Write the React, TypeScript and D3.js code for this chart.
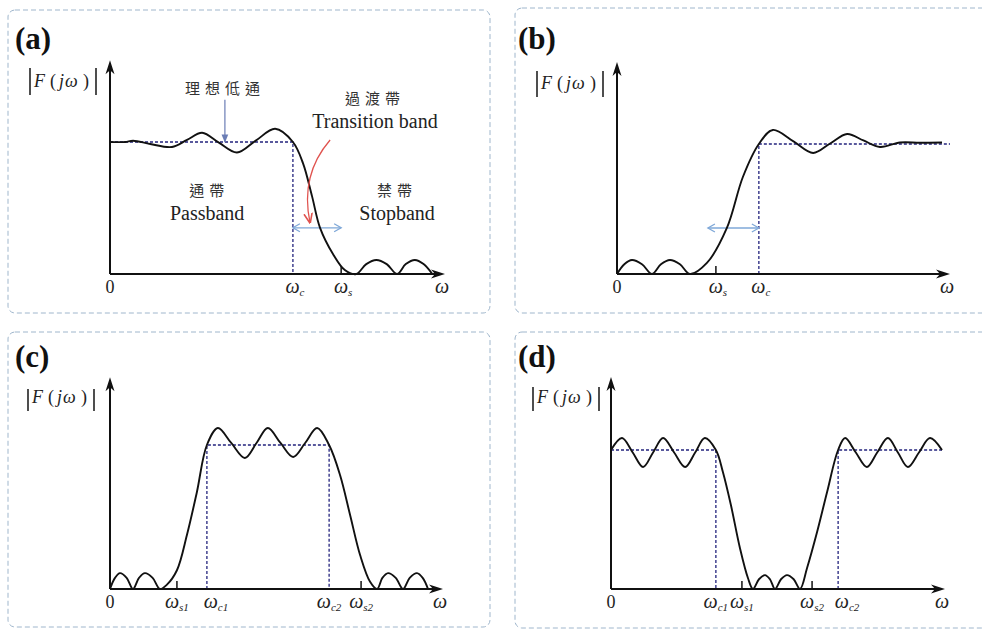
import React from "react";
import * as d3 from "d3";

type Pt = [number, number];

// ---------- data: x in ω units along the axis (0..10), y = |F(jω)| relative to the pass level (1) ----------
const responseA: Pt[] = [
  [0, 1.0], [0.45, 1.0], [0.69, 1.01], [1.2, 0.985], [1.85, 0.962], [2.3, 1.016], [2.75, 1.07],
  [3.25, 0.995], [3.79, 0.92], [4.35, 1.01], [4.93, 1.1], [5.46, 1.0], [5.76, 0.84], [6.03, 0.59],
  [6.27, 0.35], [6.66, 0.15], [7.01, 0.03], [7.35, 0], [7.65, 0.075], [7.95, 0.106], [8.26, 0.075],
  [8.57, 0], [8.83, 0.075], [9.1, 0.106], [9.36, 0.075], [9.62, 0],
];
const responseB: Pt[] = [
  [0, 0], [0.22, 0.075], [0.45, 0.108], [0.75, 0.075], [1.05, 0], [1.32, 0.075], [1.59, 0.108],
  [1.89, 0.075], [2.19, 0], [2.7, 0.085], [3.3, 0.354], [3.78, 0.746], [4.26, 1.0], [4.68, 1.108],
  [5.3, 1.02], [5.89, 0.931], [6.4, 1.004], [6.91, 1.077], [7.4, 1.027], [7.9, 0.977], [8.5, 1.012],
  [9.1, 1.01], [9.76, 1.012],
];
const responseC: Pt[] = [
  [0, 0], [0.15, 0.077], [0.3, 0.11], [0.5, 0.077], [0.69, 0], [0.87, 0.077], [1.05, 0.11],
  [1.28, 0.077], [1.5, 0], [1.71, 0.03], [2.01, 0.13], [2.31, 0.375], [2.61, 0.674], [2.91, 1.0],
  [3.24, 1.118], [3.64, 1.014], [4.05, 0.91], [4.4, 1.014], [4.74, 1.118], [5.12, 1.014], [5.5, 0.917],
  [5.86, 1.014], [6.22, 1.118], [6.58, 1.0], [6.91, 0.79], [7.21, 0.514], [7.51, 0.236], [7.81, 0.05],
  [8.02, 0], [8.18, 0.077], [8.35, 0.11], [8.58, 0.077], [8.8, 0], [9.0, 0.077], [9.22, 0.11],
  [9.39, 0.077], [9.55, 0],
];
const responseD: Pt[] = [
  [0, 1.0], [0.33, 1.086], [0.65, 0.982], [0.96, 0.878], [1.26, 0.982], [1.56, 1.086], [1.89, 0.982],
  [2.22, 0.878], [2.52, 0.982], [2.81, 1.086], [3.14, 1.0], [3.35, 0.842], [3.59, 0.604], [3.86, 0.295],
  [4.1, 0.079], [4.25, 0], [4.43, 0.07], [4.61, 0.1], [4.76, 0.07], [4.91, 0], [5.09, 0.07],
  [5.27, 0.1], [5.47, 0.07], [5.66, 0], [5.87, 0.151], [6.17, 0.41], [6.47, 0.698], [6.8, 1.0],
  [7.01, 1.086], [7.33, 0.982], [7.66, 0.878], [7.97, 0.982], [8.29, 1.086], [8.59, 0.982], [8.89, 0.878],
  [9.22, 0.982], [9.55, 1.086], [9.91, 1.0],
];

// ideal (brick-wall) responses, dashed
const idealA: Pt[][] = [[[0, 1], [5.46, 1], [5.46, 0]]];
const idealB: Pt[][] = [[[4.26, 0], [4.26, 1], [10, 1]]];
const idealC: Pt[][] = [[[2.91, 0], [2.91, 1], [6.58, 1], [6.58, 0]]];
const idealD: Pt[][] = [[[0, 1], [3.14, 1], [3.14, 0]], [[6.8, 0], [6.8, 1], [9.91, 1]]];

// axis frequency marks
type Tick = { sub: string; at: number; mark: boolean };
const ticksA: Tick[] = [{ sub: "c", at: 5.46, mark: false }, { sub: "s", at: 6.9, mark: true }];
const ticksB: Tick[] = [{ sub: "s", at: 2.97, mark: true }, { sub: "c", at: 4.26, mark: false }];
const ticksC: Tick[] = [
  { sub: "s1", at: 2.01, mark: true }, { sub: "c1", at: 2.91, mark: false },
  { sub: "c2", at: 6.58, mark: false }, { sub: "s2", at: 7.54, mark: true },
];
const ticksD: Tick[] = [
  { sub: "c1", at: 3.14, mark: false }, { sub: "s1", at: 3.92, mark: true },
  { sub: "s2", at: 6.02, mark: true }, { sub: "c2", at: 6.8, mark: false },
];

// transition-band double arrows [from, to, level]
const bandA: number[] = [5.46, 6.9, 0.35];
const bandB: number[] = [2.73, 4.26, 0.354];

const panelNames = ["(a)", "(b)", "(c)", "(d)"];

// ---------- layout ----------
const layouts = [
  { box: [8, 10, 482, 303], ox: 110, oy: 274, len: 335, lvl: 132, yTop: 1.62, label: [15, 49], fl: [30, 68, 95], shift: {} as Record<string, number> },
  { box: [515, 8, 480, 305], ox: 617, oy: 274, len: 333, lvl: 130, yTop: 1.63, label: [518, 49], fl: [537, 71, 97], shift: {} as Record<string, number> },
  { box: [8, 332, 482, 295], ox: 110, oy: 589, len: 333, lvl: 144, yTop: 1.47, label: [15, 367], fl: [28, 389, 411], shift: { c1: 9 } as Record<string, number> },
  { box: [515, 332, 480, 296], ox: 611, oy: 589, len: 334, lvl: 139, yTop: 1.525, label: [518, 367], fl: [533, 387, 411], shift: { c2: 9 } as Record<string, number> },
];

const responses = [responseA, responseB, responseC, responseD];
const ideals = [idealA, idealB, idealC, idealD];
const ticksAll = [ticksA, ticksB, ticksC, ticksD];
const bands: (number[] | null)[] = [bandA, bandB, null, null];

const SERIF = "Liberation Serif, Times New Roman, serif";
const CJK = "Noto Sans CJK TC, Noto Sans CJK SC, sans-serif";

function DoubleArrow({ x1, x2, y }: { x1: number; x2: number; y: number }) {
  const c = "#7fa8d8";
  return (
    <g stroke={c} strokeWidth={1.3} fill="none">
      <line x1={x1} y1={y} x2={x2} y2={y} />
      <path d={`M${x1 + 7},${y - 4} L${x1},${y} L${x1 + 7},${y + 4}`} />
      <path d={`M${x2 - 7},${y - 4} L${x2},${y} L${x2 - 7},${y + 4}`} />
    </g>
  );
}

function FLabel({ x, y0, y1 }: { x: number; y0: number; y1: number }) {
  const base = y1 - 8;
  return (
    <g>
      <line x1={x} y1={y0} x2={x} y2={y1} stroke="#222" strokeWidth={1.6} />
      <line x1={x + 66} y1={y0} x2={x + 66} y2={y1} stroke="#222" strokeWidth={1.6} />
      <text y={base} fontSize={18} fontFamily={SERIF} fill="#222">
        <tspan x={x + 4} fontStyle="italic">F</tspan>
        <tspan x={x + 20}>(</tspan>
        <tspan x={x + 29} fontStyle="italic">j</tspan>
        <tspan x={x + 35} fontStyle="italic">ω</tspan>
        <tspan x={x + 53}>)</tspan>
      </text>
    </g>
  );
}

function Panel({ i }: { i: number }) {
  const L = layouts[i];
  const x = d3.scaleLinear().domain([0, 10]).range([L.ox, L.ox + L.len]);
  const y = d3.scaleLinear().domain([0, 1]).range([L.oy, L.oy - L.lvl]);
  const smooth = d3.line<Pt>().x((d) => x(d[0])).y((d) => y(d[1])).curve(d3.curveCatmullRom.alpha(0.5));
  const straight = d3.line<Pt>().x((d) => x(d[0])).y((d) => y(d[1]));
  const x0 = x(0), y0 = y(0), xEnd = x(10), yEnd = y(L.yTop);
  const [bx, by, bw, bh] = L.box;
  const band = bands[i];
  return (
    <g>
      <rect x={bx} y={by} width={bw} height={bh} rx={7} fill="none" stroke="#9fb6cc" strokeWidth={1} strokeDasharray="5,3" />
      <text x={L.label[0]} y={L.label[1]} fontSize={31} fontWeight="bold" fontFamily={SERIF} fill="#111">{panelNames[i]}</text>
      <FLabel x={L.fl[0]} y0={L.fl[1]} y1={L.fl[2]} />
      {ideals[i].map((seg, k) => (
        <path key={k} d={straight(seg) || ""} fill="none" stroke="#23237e" strokeWidth={1.3} strokeDasharray="3,2" />
      ))}
      {band && <DoubleArrow x1={x(band[0])} x2={x(band[1])} y={y(band[2])} />}
      <path d={smooth(responses[i]) || ""} fill="none" stroke="#111" strokeWidth={1.9} />
      <line x1={x0} y1={y0} x2={xEnd - 9} y2={y0} stroke="#111" strokeWidth={2} />
      <line x1={x0} y1={y0} x2={x0} y2={yEnd + 9} stroke="#111" strokeWidth={2} />
      <path d={`M${xEnd},${y0} L${xEnd - 14},${y0 - 4.5} L${xEnd - 10},${y0} L${xEnd - 14},${y0 + 4.5} Z`} fill="#111" />
      <path d={`M${x0},${yEnd} L${x0 - 4.5},${yEnd + 14} L${x0},${yEnd + 10} L${x0 + 4.5},${yEnd + 14} Z`} fill="#111" />
      <text x={x0} y={y0 + 19} fontSize={18} textAnchor="middle" fontFamily={SERIF} fill="#222">0</text>
      <text x={xEnd - 3} y={y0 + 19} fontSize={20} textAnchor="middle" fontStyle="italic" fontFamily={SERIF} fill="#222">ω</text>
      {ticksAll[i].map((t, k) => (
        <g key={k}>
          {t.mark && <line x1={x(t.at)} y1={y0} x2={x(t.at)} y2={y0 - 8} stroke="#111" strokeWidth={1.5} />}
          <text x={x(t.at) + (L.shift[t.sub] || 0) + (t.sub.length > 1 ? 0 : 2)} y={y0 + 19} textAnchor="middle" fontStyle="italic" fontFamily={SERIF} fill="#222">
            <tspan fontSize={20}>ω</tspan>
            <tspan fontSize={11} dy={3}>{t.sub}</tspan>
          </text>
        </g>
      ))}
      {i === 0 && <AnnotationsA x={x} y={y} />}
    </g>
  );
}

function AnnotationsA({ x, y }: { x: d3.ScaleLinear<number, number>; y: d3.ScaleLinear<number, number> }) {
  return (
    <g>
      <defs>
        <marker id="headBlue" viewBox="0 0 10 10" refX="9" refY="5" markerWidth="7" markerHeight="7" orient="auto">
          <path d="M0,1 L10,5 L0,9 Z" fill="#6a7db5" />
        </marker>
        <marker id="headRed" viewBox="0 0 10 10" refX="9" refY="5" markerWidth="8" markerHeight="8" orient="auto">
          <path d="M0,1 L10,5 L0,9" fill="none" stroke="#e0534f" strokeWidth={1.5} />
        </marker>
      </defs>
      <text x={x(3.43)} y={y(1.364)} fontSize={15} letterSpacing={5} textAnchor="middle" fontFamily={CJK} fill="#333">理想低通</text>
      <line x1={x(3.43)} y1={y(1.32)} x2={x(3.43)} y2={y(1.0)} stroke="#6a7db5" strokeWidth={1.2} markerEnd="url(#headBlue)" />
      <text x={x(7.91)} y={y(1.288)} fontSize={15} letterSpacing={5} textAnchor="middle" fontFamily={CJK} fill="#333">過渡帶</text>
      <text x={x(7.91)} y={y(1.106)} fontSize={20} textAnchor="middle" fontFamily={SERIF} fill="#222">Transition band</text>
      <path d={`M${x(6.57)},${y(1.015)} Q${x(5.67)},${y(0.75)} ${x(5.97)},${y(0.39)}`} fill="none" stroke="#e0534f" strokeWidth={1.3} markerEnd="url(#headRed)" />
      <text x={x(2.96)} y={y(0.59)} fontSize={15} letterSpacing={5} textAnchor="middle" fontFamily={CJK} fill="#333">通帶</text>
      <text x={x(2.9)} y={y(0.41)} fontSize={20} textAnchor="middle" fontFamily={SERIF} fill="#222">Passband</text>
      <text x={x(8.57)} y={y(0.59)} fontSize={15} letterSpacing={5} textAnchor="middle" fontFamily={CJK} fill="#333">禁帶</text>
      <text x={x(8.57)} y={y(0.41)} fontSize={20} textAnchor="middle" fontFamily={SERIF} fill="#222">Stopband</text>
    </g>
  );
}

export default function App() {
  return (
    <svg width={982} height={629} style={{ position: "absolute", left: 0, top: 0, background: "#fff" }}>
      <rect x={0} y={0} width={982} height={629} fill="#fff" />
      {layouts.map((_, i) => (
        <Panel key={i} i={i} />
      ))}
    </svg>
  );
}
